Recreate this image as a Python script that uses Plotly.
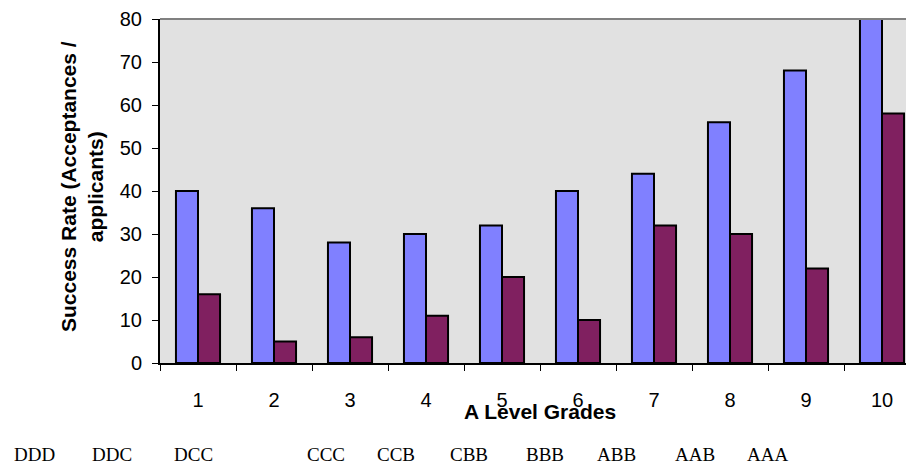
import plotly.graph_objects as go

categories = [1, 2, 3, 4, 5, 6, 7, 8, 9, 10]
series_a = [40, 36, 28, 30, 32, 40, 44, 56, 68, 80]
series_b = [16, 5, 6, 11, 20, 10, 32, 30, 22, 58]
grade_labels = ["DDD", "DDC", "DCC", "CCC", "CCB", "CBB", "BBB", "ABB", "AAB", "AAA"]
grade_label_x_px = [34, 112, 193, 326, 396, 469, 545, 616, 695, 767]
y_ticks = [0, 10, 20, 30, 40, 50, 60, 70, 80]

OFF = 8  # default page body margin
W, H = 914 - OFF, 465 - OFF
L, T = 160 - OFF, 17 - OFF
BOTTOM = 363 - OFF
B, R = H - BOTTOM, 0
PW, PH = W - L - R, BOTTOM - T


def px_x(p):
    return (p - OFF - L) / PW


def px_y(p):
    return (BOTTOM - (p - OFF)) / PH


fig = go.Figure()
fig.add_trace(go.Bar(x=categories, y=series_a, marker=dict(color="#8080ff", line=dict(color="black", width=2)),
                     showlegend=False))
fig.add_trace(go.Bar(x=categories, y=series_b, marker=dict(color="#802060", line=dict(color="black", width=2)),
                     showlegend=False))
fig.add_trace(go.Scatter(x=[categories[0]], y=[0], xaxis="x2", mode="markers",
                         marker=dict(opacity=0), showlegend=False, hoverinfo="skip"))

xr = [0.5, 10.5 - 6 / 76]
fig.update_layout(
    width=W, height=H,
    margin=dict(l=L, t=T, b=B, r=R),
    paper_bgcolor="white",
    plot_bgcolor="#e1e1e1",
    barmode="group",
    bargap=0.42,
    bargroupgap=0,
    font=dict(family="Liberation Sans, Arial", size=20, color="black"),
    xaxis=dict(range=xr, tickvals=categories, ticktext=[str(c) for c in categories],
               showgrid=False, zeroline=False, showline=True, linecolor="black", linewidth=2,
               ticks="", ticklabelstandoff=18, tickfont=dict(size=20), ticklabeloverflow="allow"),
    xaxis2=dict(range=xr, overlaying="x", side="bottom", anchor="y",
                tickvals=[c + 0.5 for c in [0] + categories[:-1]], showticklabels=False,
                ticks="outside", ticklen=7, tickwidth=1, tickcolor="black",
                showgrid=False, zeroline=False, showline=False),
    yaxis=dict(range=[0, 80], tickvals=y_ticks, showgrid=False, zeroline=False,
               showline=True, linecolor="black", linewidth=2,
               ticks="outside", ticklen=6, tickwidth=1, tickcolor="black",
               ticklabelstandoff=6, tickfont=dict(size=20), ticklabeloverflow="allow"),
    shapes=[dict(type="line", xref="paper", yref="paper", x0=0, x1=1, y0=1, y1=1,
                 line=dict(color="#808080", width=2))],
)

ann = [
    dict(text="<b>A Level Grades</b>", xref="paper", yref="paper", x=px_x(540), y=px_y(412),
         showarrow=False, font=dict(size=21), xanchor="center", yanchor="middle"),
    dict(text="<b>Success Rate (Acceptances /<br>applicants)</b>", xref="paper", yref="paper",
         x=px_x(82), y=px_y(186), textangle=-90, showarrow=False,
         font=dict(size=21), xanchor="center", yanchor="middle"),
]
for lab, px in zip(grade_labels, grade_label_x_px):
    ann.append(dict(text=lab, xref="paper", yref="paper", x=px_x(px), y=px_y(455),
                    showarrow=False, font=dict(family="Liberation Serif, Times New Roman", size=19),
                    xanchor="center", yanchor="middle"))
fig.update_layout(annotations=ann)

fig.write_html("out.html")
